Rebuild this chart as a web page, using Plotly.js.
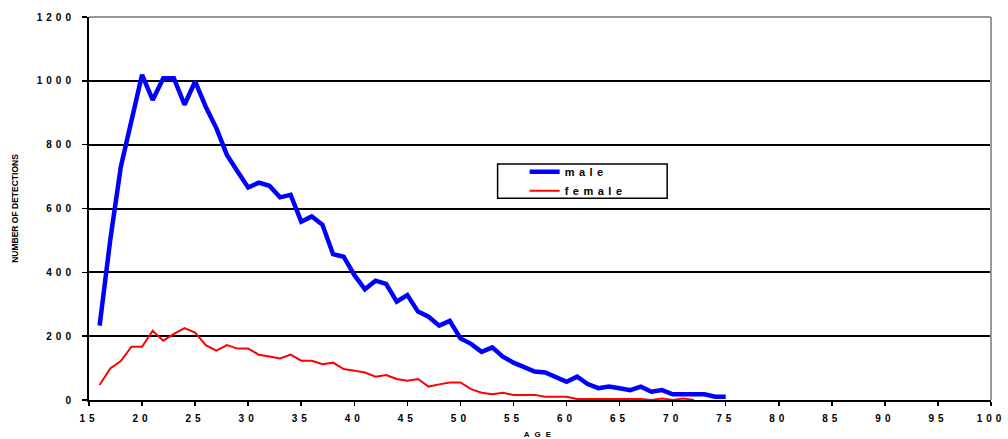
<!DOCTYPE html>
<html>
<head>
<meta charset="utf-8">
<script src="https://cdn.plot.ly/plotly-3.0.1.min.js"></script>
<style>
  body { margin: 0; background: #fff; }
  #chart { width: 1008px; height: 439px; }
  .xtick text, .ytick text { letter-spacing: 4px; }
  .legendtext { letter-spacing: 4.5px; }
  .g-xtitle text { letter-spacing: 5px; }
</style>
</head>
<body>
<div id="chart"></div>
<script>
// ages and detections
let ages = [];
for (let a = 16; a <= 75; a++) ages.push(a);

let male = [233, 501, 731, 872, 1019, 940, 1008, 1008, 925, 998,
  919, 852, 768, 716, 666, 681, 671, 635, 643, 559,
  575, 549, 457, 449, 392, 347, 374, 364, 308, 329,
  277, 261, 233, 248, 193, 176, 151, 165, 136, 117,
  102, 89, 86, 71, 57, 73, 50, 37, 42, 37,
  31, 42, 26, 31, 18, 18, 18, 18, 10, 10];

let femaleAges = ages.slice(0, 57); // 16..72
let female = [47, 99, 122, 167, 167, 217, 186, 207, 225, 211,
  172, 155, 172, 161, 161, 142, 136, 130, 142, 123,
  123, 112, 117, 97, 92, 86, 73, 78, 66, 60,
  66, 42, 49, 55, 55, 34, 23, 18, 23, 16,
  16, 16, 10, 10, 10, 3, 3, 3, 3, 3,
  3, 3, 0, 5, 0, 5, 0];

let data = [
  {x: ages, y: male, name: 'male', mode: 'lines',
   line: {color: '#0000ff', width: 4.5}},
  {x: femaleAges, y: female, name: 'female', mode: 'lines',
   line: {color: '#ff0000', width: 2}}
];

let tickFont = {family: 'Liberation Sans, Arial', size: 10, color: '#000', weight: 'bold'};

let layout = {
  width: 1008, height: 439,
  margin: {l: 89, r: 17, t: 17, b: 39},
  paper_bgcolor: '#fff', plot_bgcolor: '#fff',
  showlegend: true,
  legend: {x: 0.483, y: 0.634, xanchor: 'left', yanchor: 'top',
    bgcolor: 'rgba(0,0,0,0)', borderwidth: 0, tracegroupgap: 0,
    font: {family: 'Liberation Sans, Arial', size: 11, color: '#000', weight: 'bold'}},
  xaxis: {
    range: [15, 100], tick0: 15, dtick: 5, fixedrange: true,
    showgrid: false, zeroline: false,
    showline: true, linecolor: '#000', linewidth: 2,
    ticks: 'outside', ticklen: 4, tickwidth: 1.5, tickcolor: '#000',
    ticklabelstandoff: 4,
    tickfont: tickFont,
    title: {text: 'AGE', standoff: 10,
      font: {family: 'Liberation Sans, Arial', size: 8, color: '#000', weight: 'bold'}}
  },
  yaxis: {
    range: [0, 1200], dtick: 200, fixedrange: true,
    showgrid: true, gridcolor: '#000', gridwidth: 2, zeroline: false,
    showline: true, linecolor: '#000', linewidth: 2,
    ticks: 'outside', ticklen: 5, tickwidth: 1.5, tickcolor: '#000',
    ticklabelstandoff: 5,
    tickfont: tickFont,
    title: {text: 'NUMBER OF DETECTIONS', standoff: 17,
      font: {family: 'Liberation Sans, Arial', size: 8.5, color: '#000', weight: 'bold'}}
  },
  shapes: [
    // grey frame on top and right of the plot area
    {type: 'line', xref: 'paper', yref: 'paper', x0: 0, x1: 1, y0: 1, y1: 1,
     line: {color: '#999', width: 2}, layer: 'above'},
    {type: 'line', xref: 'paper', yref: 'paper', x0: 1, x1: 1, y0: 0, y1: 1,
     line: {color: '#999', width: 2}, layer: 'above'},
    // legend box
    {type: 'rect', xref: 'paper', yref: 'paper', x0: 0.453, x1: 0.641, y0: 0.527, y1: 0.616,
     line: {color: '#000', width: 1.5}, fillcolor: '#fff', layer: 'above'}
  ]
};

Plotly.newPlot('chart', data, layout, {displayModeBar: false, staticPlot: true});
</script>
</body>
</html>
